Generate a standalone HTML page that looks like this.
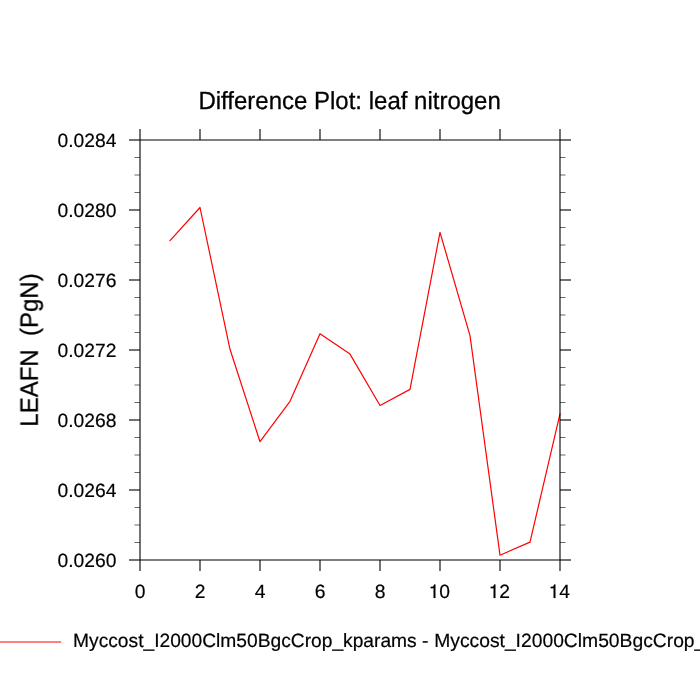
<!DOCTYPE html>
<html><head><meta charset="utf-8"><title>Difference Plot: leaf nitrogen</title>
<style>html,body{margin:0;padding:0;background:#fff;}body{width:700px;height:700px;overflow:hidden;}svg{display:block;}text{font-family:"Liberation Sans",sans-serif;fill:#000;text-rendering:geometricPrecision;}</style>
</head><body>
<svg width="700" height="700" viewBox="0 0 700 700">
<rect x="0" y="0" width="700" height="700" fill="#fff"/>
<polyline fill="none" stroke="#ff0000" stroke-width="1.2" stroke-linejoin="round" stroke-linecap="round" points="170,240.7 200,207.5 230,349.3 260,441.7 290,401.3 320,333.7 350,354.1 380,405.5 410,389.4 440,232.3 470,335.7 500,555.2 530,542.1 560,413.9"/>
<line x1="-5" y1="642" x2="61.15" y2="642" stroke="#ff0000" stroke-width="1.2"/>
<g stroke="#000" stroke-width="1.1" fill="none">
<line x1="140" y1="140" x2="560" y2="140"/>
<line x1="140" y1="560" x2="560" y2="560"/>
<line x1="140" y1="140" x2="140" y2="560"/>
<line x1="560" y1="140" x2="560" y2="560"/>
<line x1="129" y1="140" x2="140" y2="140"/>
<line x1="560" y1="140" x2="571" y2="140"/>
<line x1="129" y1="210" x2="140" y2="210"/>
<line x1="560" y1="210" x2="571" y2="210"/>
<line x1="129" y1="280" x2="140" y2="280"/>
<line x1="560" y1="280" x2="571" y2="280"/>
<line x1="129" y1="350" x2="140" y2="350"/>
<line x1="560" y1="350" x2="571" y2="350"/>
<line x1="129" y1="420" x2="140" y2="420"/>
<line x1="560" y1="420" x2="571" y2="420"/>
<line x1="129" y1="490" x2="140" y2="490"/>
<line x1="560" y1="490" x2="571" y2="490"/>
<line x1="129" y1="560" x2="140" y2="560"/>
<line x1="560" y1="560" x2="571" y2="560"/>
<line x1="140" y1="129" x2="140" y2="140"/>
<line x1="140" y1="560" x2="140" y2="571"/>
<line x1="200" y1="129" x2="200" y2="140"/>
<line x1="200" y1="560" x2="200" y2="571"/>
<line x1="260" y1="129" x2="260" y2="140"/>
<line x1="260" y1="560" x2="260" y2="571"/>
<line x1="320" y1="129" x2="320" y2="140"/>
<line x1="320" y1="560" x2="320" y2="571"/>
<line x1="380" y1="129" x2="380" y2="140"/>
<line x1="380" y1="560" x2="380" y2="571"/>
<line x1="440" y1="129" x2="440" y2="140"/>
<line x1="440" y1="560" x2="440" y2="571"/>
<line x1="500" y1="129" x2="500" y2="140"/>
<line x1="500" y1="560" x2="500" y2="571"/>
<line x1="560" y1="129" x2="560" y2="140"/>
<line x1="560" y1="560" x2="560" y2="571"/>
</g>
<g stroke="#000" stroke-width="0.6" fill="none">
<line x1="134.5" y1="157.5" x2="140" y2="157.5"/>
<line x1="560" y1="157.5" x2="565.5" y2="157.5"/>
<line x1="134.5" y1="175" x2="140" y2="175"/>
<line x1="560" y1="175" x2="565.5" y2="175"/>
<line x1="134.5" y1="192.5" x2="140" y2="192.5"/>
<line x1="560" y1="192.5" x2="565.5" y2="192.5"/>
<line x1="134.5" y1="227.5" x2="140" y2="227.5"/>
<line x1="560" y1="227.5" x2="565.5" y2="227.5"/>
<line x1="134.5" y1="245" x2="140" y2="245"/>
<line x1="560" y1="245" x2="565.5" y2="245"/>
<line x1="134.5" y1="262.5" x2="140" y2="262.5"/>
<line x1="560" y1="262.5" x2="565.5" y2="262.5"/>
<line x1="134.5" y1="297.5" x2="140" y2="297.5"/>
<line x1="560" y1="297.5" x2="565.5" y2="297.5"/>
<line x1="134.5" y1="315" x2="140" y2="315"/>
<line x1="560" y1="315" x2="565.5" y2="315"/>
<line x1="134.5" y1="332.5" x2="140" y2="332.5"/>
<line x1="560" y1="332.5" x2="565.5" y2="332.5"/>
<line x1="134.5" y1="367.5" x2="140" y2="367.5"/>
<line x1="560" y1="367.5" x2="565.5" y2="367.5"/>
<line x1="134.5" y1="385" x2="140" y2="385"/>
<line x1="560" y1="385" x2="565.5" y2="385"/>
<line x1="134.5" y1="402.5" x2="140" y2="402.5"/>
<line x1="560" y1="402.5" x2="565.5" y2="402.5"/>
<line x1="134.5" y1="437.5" x2="140" y2="437.5"/>
<line x1="560" y1="437.5" x2="565.5" y2="437.5"/>
<line x1="134.5" y1="455" x2="140" y2="455"/>
<line x1="560" y1="455" x2="565.5" y2="455"/>
<line x1="134.5" y1="472.5" x2="140" y2="472.5"/>
<line x1="560" y1="472.5" x2="565.5" y2="472.5"/>
<line x1="134.5" y1="507.5" x2="140" y2="507.5"/>
<line x1="560" y1="507.5" x2="565.5" y2="507.5"/>
<line x1="134.5" y1="525" x2="140" y2="525"/>
<line x1="560" y1="525" x2="565.5" y2="525"/>
<line x1="134.5" y1="542.5" x2="140" y2="542.5"/>
<line x1="560" y1="542.5" x2="565.5" y2="542.5"/>
</g>
<g opacity="0.999" stroke="#000" stroke-width="0.2">
<text transform="translate(349.6,109.4) scale(1,1.03)" font-size="24" text-anchor="middle" stroke="#000" stroke-width="0.3">Difference Plot: leaf nitrogen</text>
<text x="116.5" y="147" font-size="19.3" text-anchor="end">0.0284</text>
<text x="116.5" y="217" font-size="19.3" text-anchor="end">0.0280</text>
<text x="116.5" y="287" font-size="19.3" text-anchor="end">0.0276</text>
<text x="116.5" y="357" font-size="19.3" text-anchor="end">0.0272</text>
<text x="116.5" y="427" font-size="19.3" text-anchor="end">0.0268</text>
<text x="116.5" y="497" font-size="19.3" text-anchor="end">0.0264</text>
<text x="116.5" y="567" font-size="19.3" text-anchor="end">0.0260</text>
<text x="140" y="598.2" font-size="19.3" text-anchor="middle">0</text>
<text x="200" y="598.2" font-size="19.3" text-anchor="middle">2</text>
<text x="260" y="598.2" font-size="19.3" text-anchor="middle">4</text>
<text x="320" y="598.2" font-size="19.3" text-anchor="middle">6</text>
<text x="380" y="598.2" font-size="19.3" text-anchor="middle">8</text>
<path transform="translate(440,597.9)" d="M-4.6,0 L-6.4,0 L-6.4,-9.6 L-9.3,-9.6 L-9.3,-11.1 L-7.6,-11.25 C-6.7,-11.5 -6.15,-12.3 -5.85,-13.5 L-4.6,-13.5 Z"/>
<text x="439.3" y="598.2" font-size="19.3">0</text>
<path transform="translate(500,597.9)" d="M-4.6,0 L-6.4,0 L-6.4,-9.6 L-9.3,-9.6 L-9.3,-11.1 L-7.6,-11.25 C-6.7,-11.5 -6.15,-12.3 -5.85,-13.5 L-4.6,-13.5 Z"/>
<text x="499.3" y="598.2" font-size="19.3">2</text>
<path transform="translate(560,597.9)" d="M-4.6,0 L-6.4,0 L-6.4,-9.6 L-9.3,-9.6 L-9.3,-11.1 L-7.6,-11.25 C-6.7,-11.5 -6.15,-12.3 -5.85,-13.5 L-4.6,-13.5 Z"/>
<text x="559.3" y="598.2" font-size="19.3">4</text>
<text transform="translate(37.6,350) rotate(-90) scale(1,1.04)" font-size="24" text-anchor="middle" stroke="#000" stroke-width="0.3" xml:space="preserve">LEAFN  (PgN)</text>
<text x="73.05" y="646.9" font-size="19.22">Myccost_I2000Clm50BgcCrop_kparams -</text>
<text x="434.2" y="646.9" font-size="19.3">Myccost_I2000Clm50BgcCrop_default</text>
</g>
</svg></body></html>
